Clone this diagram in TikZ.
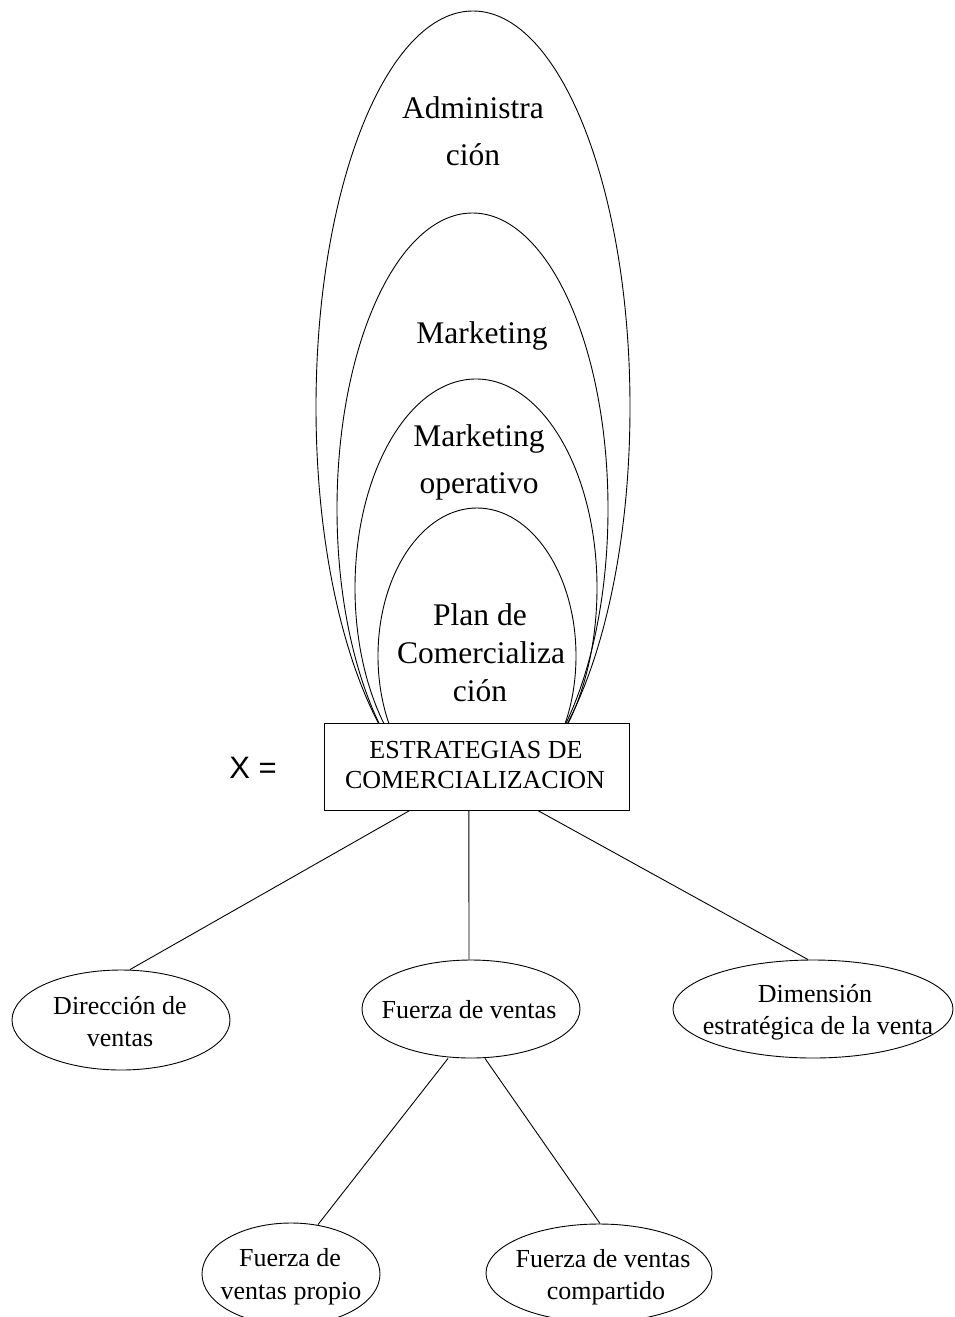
\documentclass[tikz,border=0pt]{standalone}
\usepackage{fontspec}
\setmainfont{Liberation Serif}
\newfontfamily\labelsans{Liberation Sans}
\usetikzlibrary{shapes.geometric,calc}

\tikzset{
  thinline/.style={line width=0.9pt},
  bigtext/.style={font=\fontsize{31.5}{38}\selectfont, inner sep=0pt, anchor=base},
  smalltext/.style={font=\fontsize{26}{32}\selectfont, inner sep=0pt, anchor=base},
  oval/.style={draw, ellipse, inner sep=0pt, line width=0.9pt},
  mainbox/.style={draw, rectangle, inner sep=0pt, line width=0.9pt,
                  minimum width=305pt, minimum height=87pt},
}

\begin{document}
\begin{tikzpicture}[x=1pt,y=-1pt]
\useasboundingbox (0,0) rectangle (955,1317);

% nested arches standing on the central box
\begin{scope}
  \clip (0,0) rectangle (955,723);
  \draw[thinline] (473,407)   ellipse [x radius=157pt,   y radius=396pt];
  \draw[thinline] (472.5,509) ellipse [x radius=135.5pt, y radius=296pt];
  \draw[thinline] (476,588)   ellipse [x radius=121pt,   y radius=209pt];
  \draw[thinline] (477,656)   ellipse [x radius=99pt,    y radius=148pt];
\end{scope}

% arch labels
\node[bigtext] (adm1) at (473,118) {Administra};
\node[bigtext] (adm2) at (473,165) {ción};
\node[bigtext] (mkt)  at (482,343) {Marketing};
\node[bigtext] (mop1) at (479,446) {Marketing};
\node[bigtext] (mop2) at (479,493) {operativo};
\node[bigtext] (pc1)  at (480,625) {Plan de};
\node[bigtext] (pc2)  at (481,663) {Comercializa};
\node[bigtext] (pc3)  at (480,701) {ción};

% central box
\node[mainbox] (box) at (476.5,766.5) {};
\node[smalltext] (box1) at (476,758) {ESTRATEGIAS DE};
\node[smalltext] (box2) at (475,788) {COMERCIALIZACION};

\node[inner sep=0pt, anchor=base, font=\labelsans\fontsize{31}{36}\selectfont] (xeq) at (253,778) {X =};

% ovals
\node[oval, minimum width=218pt, minimum height=100pt] (dir)  at (121,1020) {};
\node[oval, minimum width=218pt, minimum height=98pt]  (fv)   at (471,1009) {};
\node[oval, minimum width=280pt, minimum height=98pt]  (dim)  at (813,1009) {};
\node[oval, minimum width=178pt, minimum height=102pt] (prop) at (291,1274) {};
\node[oval, minimum width=226pt, minimum height=98pt]  (comp) at (599,1273) {};

\node[smalltext] (dir1)  at (120,1014) {Dirección de};
\node[smalltext] (dir2)  at (120,1046) {ventas};
\node[smalltext] (fv1)   at (469,1018) {Fuerza de ventas};
\node[smalltext] (dim1)  at (815,1002) {Dimensión};
\node[smalltext] (dim2)  at (818,1034) {estratégica de la venta};
\node[smalltext] (prop1) at (290,1266) {Fuerza de};
\node[smalltext] (prop2) at (291,1299) {ventas propio};
\node[smalltext] (comp1) at (603,1267) {Fuerza de ventas};
\node[smalltext] (comp2) at (606,1299) {compartido};

% connectors
\draw[thinline] ($(box.south west)!0.282!(box.south east)$) -- ([xshift=9pt]dir.north);
\draw[thinline] ($(box.south west)!0.475!(box.south east)$) -- ([xshift=-2pt]fv.north);
\draw[thinline] ($(box.south west)!0.70!(box.south east)$)  -- ([xshift=-5pt]dim.north);
\draw[thinline] ([xshift=-23pt]fv.south) -- ([xshift=27pt,yshift=-2pt]prop.north);
\draw[thinline] ([xshift=14pt]fv.south)  -- ([xshift=1pt]comp.north);
\end{tikzpicture}
\end{document}
